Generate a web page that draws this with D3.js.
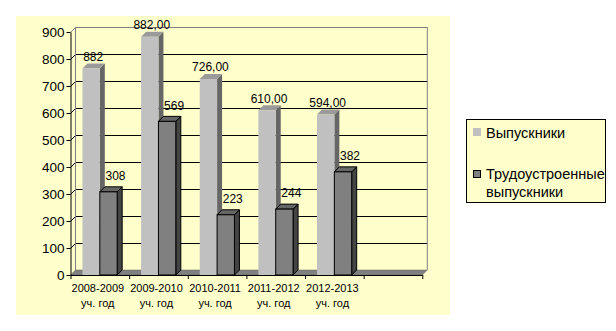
<!DOCTYPE html>
<html>
<head>
<meta charset="utf-8">
<script src="https://cdn.jsdelivr.net/npm/d3@7"></script>
<style>
  body { margin: 0; background: #fff; }
  text { font-family: "Liberation Sans", Arial, sans-serif; fill: #000; }
</style>
</head>
<body>
<div id="chart"></div>
<script>
// data
const years = ["2008-2009", "2009-2010", "2010-2011", "2011-2012", "2012-2013"];
const yearSuffix = "уч. год";
const seriesNames = ["Выпускники", "Трудоустроенные выпускники"];
const graduates = [765, 882, 726, 610, 594];
const employed = [308, 569, 223, 244, 382];
const graduateLabels = ["882", "882,00", "726,00", "610,00", "594,00"];
const employedLabels = ["308", "569", "223", "244", "382"];
const yTicks = [0, 100, 200, 300, 400, 500, 600, 700, 800, 900];

const width = 616, height = 331;
const depth = {x: 5, y: -5};     // 3d offset of the back wall
const barDepth = {x: 5, y: -5};

const svg = d3.create("svg")
    .attr("width", width)
    .attr("height", height);

// chart area background
svg.append("rect")
    .attr("x", 16).attr("y", 16)
    .attr("width", 434).attr("height", 299)
    .attr("fill", "#ffffcc");

// scales
const slots = years.concat(["_empty"]);
const x = d3.scaleBand()
    .domain(slots)
    .range([70.5, 422.3])
    .padding(0);

const xEdges = d3.scaleLinear()
    .domain([0, slots.length])
    .range([70.5, 422.3]);

const xSub = d3.scaleBand()
    .domain(seriesNames)
    .range([0, x.bandwidth()])
    .paddingInner(0)
    .paddingOuter(0.69);

const y = d3.scaleLinear()
    .domain([0, 900])
    .range([275, 32]);

const left = xEdges(0), right = xEdges(slots.length);

// back wall gridlines + left wall diagonals
const grid = svg.append("g");
yTicks.forEach(t => {
    const yy = Math.round(y(t)) + 0.5;
    if (t === 0) return;
    const col = t === 900 ? "#808080" : "#000";
    grid.append("line")
        .attr("x1", left + depth.x).attr("x2", right + depth.x)
        .attr("y1", yy + depth.y).attr("y2", yy + depth.y)
        .attr("stroke", col);
    grid.append("line")
        .attr("x1", left).attr("y1", yy)
        .attr("x2", left + depth.x).attr("y2", yy + depth.y)
        .attr("stroke", col);
});
// wall edges
grid.append("line")
    .attr("x1", left + depth.x).attr("x2", left + depth.x)
    .attr("y1", y(900) + depth.y).attr("y2", y(0) + depth.y)
    .attr("stroke", "#808080");
grid.append("line")
    .attr("x1", right + depth.x).attr("x2", right + depth.x)
    .attr("y1", y(900) + depth.y).attr("y2", y(0) + depth.y)
    .attr("stroke", "#808080");

// floor
svg.append("polygon")
    .attr("points", [
        [left, y(0)], [right, y(0)],
        [right + depth.x, y(0) + depth.y], [left + depth.x, y(0) + depth.y]
    ].map(p => p.join(",")).join(" "))
    .attr("fill", "#808080")
    .attr("stroke", "#606060")
    .attr("stroke-width", 0.5);

// bars
const styles = [
    {front: "#c0c0c0", top: "#9a9a9a", side: "#666666", stroke: "none"},
    {front: "#808080", top: "#666666", side: "#444444", stroke: "#000"}
];
const seriesValues = [graduates, employed];

function drawBar(g, x0, w, v, st) {
    const yt = y(v), yb = y(0);
    const dx = barDepth.x, dy = barDepth.y;
    const pts = a => a.map(p => p.join(",")).join(" ");
    g.append("polygon")
        .attr("points", pts([[x0 + w, yt], [x0 + w + dx, yt + dy], [x0 + w + dx, yb + dy], [x0 + w, yb]]))
        .attr("fill", st.side).attr("stroke", st.stroke);
    g.append("polygon")
        .attr("points", pts([[x0, yt], [x0 + dx, yt + dy], [x0 + w + dx, yt + dy], [x0 + w, yt]]))
        .attr("fill", st.top).attr("stroke", st.stroke);
    g.append("rect")
        .attr("x", x0).attr("y", yt)
        .attr("width", w).attr("height", yb - yt)
        .attr("fill", st.front).attr("stroke", st.stroke);
}

const bars = svg.append("g");
years.forEach((yr, i) => {
    seriesNames.forEach((s, j) => {
        drawBar(bars, x(yr) + xSub(s), xSub.bandwidth(), seriesValues[j][i], styles[j]);
    });
});

// data labels
const labelSets = [
    {labels: graduateLabels, values: graduates, dx: 2, dy: -12},
    {labels: employedLabels, values: employed, dx: 7, dy: -16}
];
labelSets.forEach((ls, j) => {
    svg.append("g").selectAll("text")
        .data(years)
        .join("text")
        .attr("x", (d, i) => x(d) + xSub(seriesNames[j]) + xSub.bandwidth() / 2 + ls.dx)
        .attr("y", (d, i) => y(ls.values[i]) + ls.dy)
        .attr("dy", "0.35em")
        .attr("text-anchor", "middle")
        .attr("font-size", "12px")
        .text((d, i) => ls.labels[i]);
});

// y axis
const yAxis = svg.append("g")
    .attr("transform", `translate(${left},0)`)
    .call(d3.axisLeft(y).tickValues(yTicks).tickSize(4).tickSizeOuter(0).tickFormat(d3.format("d")));
yAxis.select(".domain").attr("stroke", "#000");
yAxis.selectAll("text")
    .attr("font-size", "13.5px")
    .attr("font-family", "Liberation Sans, Arial, sans-serif")
    .attr("fill", "#000")
    .attr("x", -6);

// x axis (ticks at category boundaries)
const xAxis = svg.append("g")
    .attr("transform", `translate(0,${y(0)})`)
    .call(d3.axisBottom(xEdges).tickValues(d3.range(0, slots.length + 1)).tickSize(4).tickSizeOuter(0).tickFormat(""));
xAxis.select(".domain").attr("stroke", "#000");

// category labels
const catLabels = svg.append("g").selectAll("g")
    .data(years)
    .join("g")
    .attr("transform", d => `translate(${x(d) + x.bandwidth() / 2 - 2},0)`);
catLabels.append("text")
    .attr("y", 288).attr("dy", "0.35em")
    .attr("text-anchor", "middle")
    .attr("font-size", "11px")
    .text(d => d);
catLabels.append("text")
    .attr("y", 303).attr("dy", "0.35em")
    .attr("text-anchor", "middle")
    .attr("font-size", "11px")
    .text(yearSuffix);

// legend
const legend = svg.append("g");
legend.append("rect")
    .attr("x", 466.5).attr("y", 119.5)
    .attr("width", 139).attr("height", 83)
    .attr("fill", "#ffffcc").attr("stroke", "#000");
legend.append("rect")
    .attr("x", 473).attr("y", 128).attr("width", 8).attr("height", 8)
    .attr("fill", styles[0].front);
legend.append("text")
    .attr("x", 486).attr("y", 137.5)
    .attr("font-size", "14.5px")
    .text(seriesNames[0]);
legend.append("rect")
    .attr("x", 473.5).attr("y", 170.5).attr("width", 7).attr("height", 7)
    .attr("fill", styles[1].front).attr("stroke", "#000");
const words = seriesNames[1].split(" ");
legend.append("text")
    .attr("x", 486).attr("y", 179)
    .attr("font-size", "14.5px")
    .text(words[0]);
legend.append("text")
    .attr("x", 486).attr("y", 196.5)
    .attr("font-size", "14.5px")
    .text(words[1]);

document.getElementById("chart").appendChild(svg.node());
</script>
</body>
</html>
